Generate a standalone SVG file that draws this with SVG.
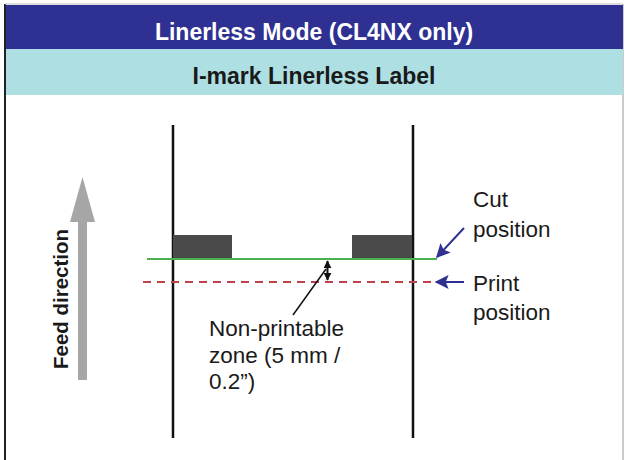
<svg xmlns="http://www.w3.org/2000/svg" width="626" height="460" viewBox="0 0 626 460">
<defs>
<style>
.t{font-family:"Liberation Sans",Arial,sans-serif;}
.lbl{font-family:"Liberation Sans",Arial,sans-serif;font-size:22.5px;fill:#1a1a1a;}
.edge{stroke:#111;stroke-width:2.5;fill:none;}
.mark{fill:#4a4a4a;}
</style>
<marker id="bl" viewBox="0 0 10 10" refX="9" refY="5" markerWidth="18" markerHeight="14" orient="auto" markerUnits="userSpaceOnUse">
<path d="M0,0 L10,5 L0,10 L2,5 z" fill="#2e3192"/>
</marker>
<marker id="sm" viewBox="0 0 10 10" refX="9" refY="5" markerWidth="8" markerHeight="8" orient="auto-start-reverse" markerUnits="userSpaceOnUse">
<path d="M0,0 L10,5 L0,10 z" fill="#111"/>
</marker>
</defs>
<rect width="626" height="460" fill="#ffffff"/>
<g id="frame">
<line x1="5" y1="4" x2="5" y2="460" stroke="#222" stroke-width="2"/>
<line x1="5" y1="4" x2="623" y2="4" stroke="#bbb" stroke-width="1"/>
<line x1="623" y1="4" x2="623" y2="460" stroke="#bbb" stroke-width="1.5"/>
</g>
<g id="header">
<rect x="6" y="5" width="617" height="44" fill="#2e3192"/>
<text class="t" x="314" y="40" text-anchor="middle" font-size="23" font-weight="bold" fill="#ffffff">Linerless Mode (CL4NX only)</text>
</g>
<g id="subheader">
<rect x="6" y="49" width="617" height="46" fill="#aee0e3"/>
<text class="t" x="314" y="84" text-anchor="middle" font-size="23" font-weight="bold" fill="#1a1a1a">I-mark Linerless Label</text>
</g>
<g id="feed-direction">
<rect x="78" y="220" width="9" height="160" fill="#a6a6a6"/>
<path d="M70,222 L82.5,177 L95,222 z" fill="#a6a6a6"/>
<text class="t" transform="translate(68,299) rotate(-90)" text-anchor="middle" font-size="20.5" font-weight="bold" fill="#1a1a1a">Feed direction</text>
</g>
<g id="label">
<line class="edge" x1="173" y1="125" x2="173" y2="438"/>
<line class="edge" x1="413" y1="125" x2="413" y2="438"/>
<rect class="mark" x="173" y="235" width="59" height="23"/>
<rect class="mark" x="352" y="235" width="60" height="23"/>
</g>
<g id="cut-line">
<line x1="147" y1="259" x2="437" y2="259" stroke="#4caf50" stroke-width="2"/>
</g>
<g id="print-line">
<line x1="143" y1="282" x2="437" y2="282" stroke="#c0404e" stroke-width="2" stroke-dasharray="8,6"/>
</g>
<g id="connectors">
<line x1="464" y1="228" x2="437" y2="257" stroke="#2e3192" stroke-width="2" marker-end="url(#bl)"/>
<line x1="464" y1="282" x2="436" y2="282" stroke="#2e3192" stroke-width="2" marker-end="url(#bl)"/>
<line x1="327.5" y1="261" x2="327.5" y2="280" stroke="#111" stroke-width="2" marker-start="url(#sm)" marker-end="url(#sm)"/>
<line x1="326" y1="269" x2="293" y2="315" stroke="#111" stroke-width="1.5"/>
</g>
<g id="cut-position">
<text class="lbl" x="473" y="207">Cut</text>
<text class="lbl" x="473" y="237">position</text>
</g>
<g id="print-position">
<text class="lbl" x="473" y="291">Print</text>
<text class="lbl" x="473" y="320">position</text>
</g>
<g id="non-printable">
<text class="lbl" x="209" y="336">Non-printable</text>
<text class="lbl" x="209" y="363">zone (5 mm /</text>
<text class="lbl" x="209" y="389">0.2”)</text>
</g>
</svg>
